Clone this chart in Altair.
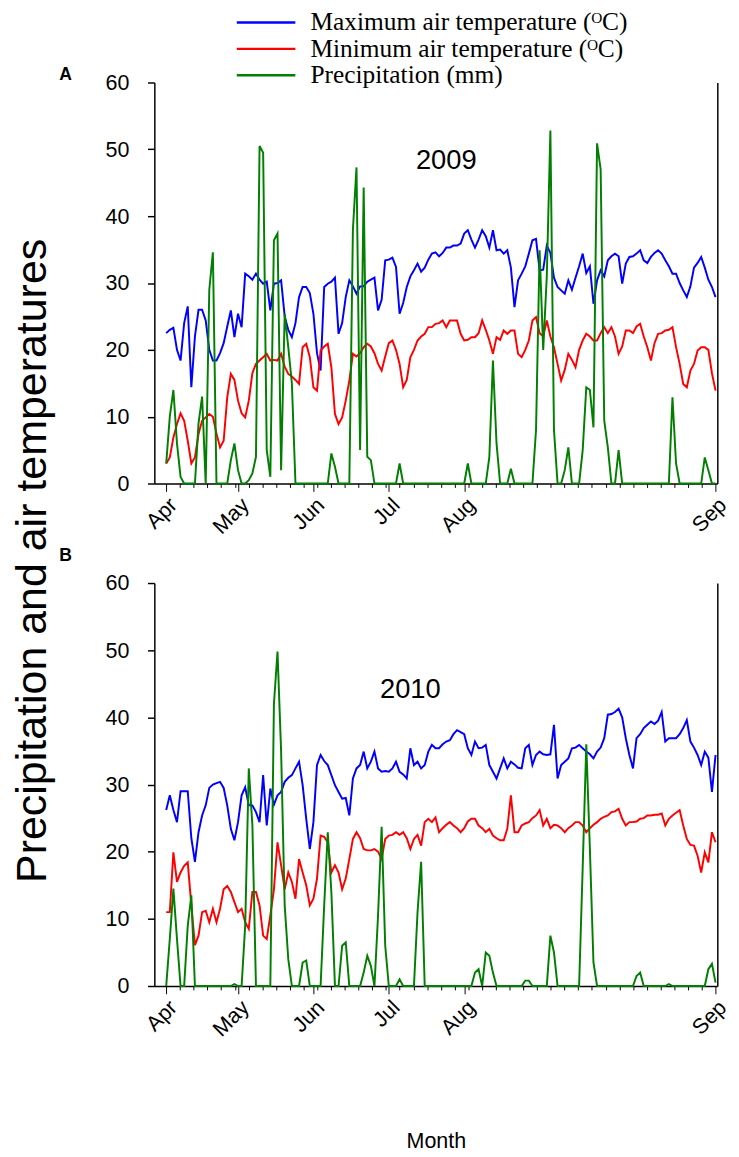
import altair as alt
import pandas as pd

# ---------------- data (daily values) ----------------
days = list(range(154))

max_2009 = [22.5, 23, 23.3, 20, 18.4, 24, 26.5, 14.4, 22, 26,
            26, 24.4, 20, 18.4, 18.4, 19.5, 21, 23.5, 25.9, 21.9,
            25.4, 23.4, 31.4, 31, 30.5, 31.4, 30.5, 29.9, 30.2, 25.9,
            29.9, 30, 30.4, 25, 23, 21.9, 24, 27.9, 29.4, 29.4,
            28.5, 25.4, 19.5, 16.9, 29.4, 29.9, 30.2, 30.8, 22.4, 24,
            27.9, 30.4, 29.5, 28.4, 29.5, 29.5, 30.2, 30.5, 30.8, 25.9,
            27.5, 33.4, 33.5, 33.8, 32.4, 25.4, 27, 29.4, 31, 31.9,
            32.9, 31.7, 32.3, 33.5, 34.4, 34.6, 34, 34.5, 35.3, 35.3,
            35.6, 35.6, 35.9, 37.4, 37.9, 36.5, 35.3, 36.5, 37.9, 37,
            35.3, 37.9, 34.9, 35, 34.4, 34.9, 32.3, 26.4, 30.4, 31.4,
            32.5, 34.4, 36.4, 36.6, 31.9, 32, 35.6, 34.5, 30.8, 29.4,
            28.9, 28.4, 30.4, 29, 30.8, 32.5, 34.4, 31.5, 32.5, 26.9,
            30.4, 31.9, 31, 33.4, 34, 34.4, 34, 29.9, 32.9, 33.9,
            34, 34.4, 34.9, 33.4, 33, 33.9, 34.5, 34.9, 34.4, 33.4,
            32.5, 31.4, 31.4, 30, 28.9, 27.9, 29.5, 32.3, 33, 33.9,
            32.3, 30.5, 29.4, 27.9]

min_2009 = [3, 3.9, 6.9, 8.9, 10.5, 9.4, 6.4, 3.0, 3.9, 7.4,
            9.4, 9.9, 10.4, 10, 7.5, 5.4, 6.4, 12.9, 16.4, 15.5,
            12.4, 10.5, 9.9, 12.4, 16.5, 17.9, 18.4, 18.9, 19.4, 18.4,
            18.5, 18.4, 19.4, 17.5, 16.4, 16, 15.5, 14.9, 20.4, 20.9,
            18.9, 14.4, 13.9, 19.9, 20.5, 20.9, 17.4, 10.4, 8.9, 9.9,
            12.4, 15.4, 19.4, 19, 19.5, 20.4, 20.9, 20.5, 19.5, 17.9,
            16.9, 19, 21, 21.4, 20, 17.9, 14.4, 15.5, 18.9, 20,
            21.4, 22, 22.4, 23.4, 23.4, 23.9, 24, 24.4, 23.4, 24.4,
            24.4, 24.4, 22.4, 21.4, 21.5, 21.9, 21.9, 22.5, 24.4, 23,
            21.4, 19.4, 21.9, 21.5, 22.9, 22.4, 22.9, 22.9, 19.4, 18.9,
            20, 21.4, 24.4, 24.9, 22.5, 22, 24.4, 22, 20.4, 17.9,
            15.4, 17, 19.4, 18.5, 17.4, 20, 21.4, 22.4, 22, 21.4,
            21.4, 22.5, 23.4, 22.5, 23.4, 22, 19.4, 20.5, 22.9, 22.9,
            22.5, 23.5, 23.9, 22, 20.4, 18.4, 21, 22.4, 22.5, 22.9,
            23, 23.4, 20.4, 17.9, 14.9, 14.4, 16.9, 17.9, 19.9, 20.4,
            20.4, 20, 16.5, 13.9]

prcp_2009 = [3, 10, 14, 6, 1, 0, 0, 0, 0, 9,
             13, 0, 29, 34.6, 0, 0, 0, 0, 3.5, 6,
             2, 0, 0, 0.5, 1.5, 4, 50.5, 49.5, 5, 1,
             36.4, 37.4, 2, 25.4, 20.4, 15, 0, 0, 0, 0,
             0, 0, 0, 0, 0, 0, 4.5, 2.5, 0, 0,
             0, 0, 38, 47.3, 5, 44.3, 4, 3.5, 0, 0,
             0, 0, 0, 0, 0, 3, 0, 0, 0, 0,
             0, 0, 0, 0, 0, 0, 0, 0, 0, 0,
             0, 0, 0, 0, 3, 0, 0, 0, 0, 0,
             4, 18.4, 6, 0, 0, 0, 2.2, 0, 0, 0,
             0, 0, 0, 8, 34.9, 20, 31, 52.8, 8, 0,
             0, 2, 5.4, 0, 0, 0, 5, 14.4, 14, 8.4,
             50.9, 47, 9.4, 5.4, 0, 0, 5, 0, 0, 0,
             0, 0, 0, 0, 0, 0, 0, 0, 0, 0,
             0, 12.9, 3, 0, 0, 0, 0, 0, 0, 0,
             3.9, 2, 0, 0]

max_2010 = [26.2, 28.4, 26.2, 24.4, 29, 29, 29, 22, 18.5, 22.9,
            25.4, 26.9, 29.5, 30, 30.2, 30.4, 29.5, 26.9, 23.4, 21.7,
            24.4, 28.4, 29.6, 26.9, 26.9, 25.9, 24.4, 31.4, 23.9, 29.4,
            27, 28.4, 28.9, 30.4, 31, 31.4, 32.4, 33.4, 29.9, 24.9,
            20.4, 24.4, 32.9, 34.4, 33.5, 32.9, 31.4, 29.9, 28.9, 27.9,
            28, 25.4, 30.9, 32.4, 32.9, 34.9, 32.4, 33.4, 34.9, 32.4,
            31.9, 32, 31.9, 32.4, 33.4, 31.9, 31.5, 30.9, 35.4, 32.9,
            33.4, 32.4, 32.9, 34.9, 35.9, 35.4, 35.4, 36, 36.4, 36.6,
            37.5, 38.1, 37.8, 37.5, 35.4, 34.4, 36.4, 35.4, 35.5, 35.9,
            32.9, 31.9, 30.9, 32.4, 33.9, 32.4, 33.4, 33, 32.5, 32.4,
            35.4, 35.9, 32.9, 34.4, 34.9, 34.5, 34.4, 34.5, 38.9, 30.9,
            32.9, 33.4, 33.9, 35.4, 35.5, 35.9, 35.4, 34.9, 34.5, 33.9,
            34.9, 35.5, 36.9, 40.4, 40.5, 40.8, 41.3, 40, 36.9, 34.4,
            32.4, 36.9, 37.5, 38.4, 38.9, 39.4, 39, 39.5, 40.8, 36.4,
            36.9, 36.9, 36.9, 37.5, 38.4, 39.6, 36.4, 35.5, 34.4, 32.9,
            34.9, 34, 28.9, 34.4]

min_2010 = [11, 11, 19.9, 15.5, 16.9, 17.9, 18.4, 12, 6.1, 7.5,
            11, 11.2, 9.5, 11.5, 9.5, 11.5, 14.4, 14.9, 14, 12.5,
            11, 11.5, 9.5, 8.5, 14, 14, 12, 7.5, 7, 10.5,
            14.4, 21.4, 18, 14.4, 16.9, 15.5, 13, 18.9, 16.9, 15,
            12, 13, 16, 22.4, 22.2, 21.4, 16.9, 18, 16.9, 14.4,
            16, 18.9, 21.9, 22.9, 22, 20.4, 20.2, 20.2, 20.4, 20,
            18.9, 21.9, 22.4, 22.5, 22.9, 22.5, 22.9, 22, 20.4, 21.9,
            22.5, 20.9, 24.4, 24.9, 24.4, 25.1, 22.9, 23.5, 24, 24.4,
            23.9, 23.5, 22.9, 23.5, 24.5, 24.9, 24.9, 23.9, 23.5, 22.9,
            23.4, 22.4, 22, 21.7, 21.7, 23.4, 28.4, 22.9, 22.9, 23.9,
            24.2, 24.4, 25, 25.4, 26.2, 23.9, 24.9, 23.5, 24, 23.9,
            23.5, 22.9, 23.5, 23.9, 24.4, 24.4, 23.9, 22.9, 23.5, 24,
            24.4, 24.9, 25.2, 25.4, 25.9, 26, 26.4, 24.9, 23.9, 24.4,
            24.4, 24.5, 24.9, 25, 25.4, 25.4, 25.5, 25.5, 25.7, 23.9,
            24.9, 25.4, 25.8, 26.2, 23.9, 21.9, 21, 20.9, 19.4, 16.9,
            19.9, 18.4, 22.9, 21.4]

prcp_2010 = [0, 7, 14.5, 7, 0, 0, 9, 13.5, 0, 0,
             0, 0, 0, 0, 0, 0, 0, 0, 0, 0.3,
             0, 0, 9, 32.4, 24, 0, 0, 0, 0, 0,
             42, 49.8, 35, 12, 4, 0, 0, 0, 3.5, 3.8,
             0, 0, 0, 0, 12, 22.9, 14, 0, 0, 6,
             6.5, 0, 0, 0, 0, 2, 4.5, 3, 0, 10.5,
             23.7, 6, 0, 0, 0, 1, 0, 0, 0, 0,
             11, 18.5, 0, 0, 0, 0, 0, 0, 0, 0,
             0, 0, 0, 0, 0, 0, 2, 2.5, 0, 5,
             4.5, 2, 0, 0, 0, 0, 0, 0, 0, 0,
             0.8, 0.8, 0, 0, 0, 0, 0, 7.5, 5, 0,
             0, 0, 0, 0, 0, 0, 17.7, 36, 20.4, 3.5,
             0, 0, 0, 0, 0, 0, 0, 0, 0, 0,
             0, 1.5, 2, 0, 0, 0, 0, 0, 0, 0,
             0.3, 0, 0, 0, 0, 0, 0, 0, 0, 0,
             0, 2.5, 3.3, 0.5]

SERIES = ["Maximum air temperature (\u1d3cC)",
          "Minimum air temperature (\u1d3cC)",
          "Precipitation (mm)"]
COLORS = ["#0000ff", "#ff0000", "#007f00"]

# month labels as placed on the original axis
label_days = [0, 20, 41, 62, 83, 153]
month_names = ["Apr", "May", "Jun", "Jul", "Aug", "Sep"]
y_ticks = [0, 10, 20, 30, 40, 50, 60]

year_labels = ["2009", "2010"]
year_label_day = [78, 68]
year_label_value = [48.3, 44.0]
panel_letters = ["A", "B"]
letter_offset_y = [-8, -28]
panel_heights = [411, 413]

# ---------------- axis helpers ----------------
minor_ticks = [round(k * 153 / 40, 3) for k in range(41)]
x_ticks = sorted(set(minor_ticks) | set(label_days))

label_expr = " : ".join(f"datum.value == {d} ? '{m}'" for d, m in zip(label_days, month_names)) + " : ''"
major_test = "indexof([" + ",".join(str(d) for d in label_days) + "], datum.value) >= 0"

FONT = "Liberation Sans"


def make_panel(i, tmax, tmin, prcp, with_legend, x_title):
    n = len(days)
    temp_df = pd.DataFrame({
        "day": days + days,
        "value": tmax + tmin,
        "series": [SERIES[0]] * n + [SERIES[1]] * n,
    })
    rain_df = pd.DataFrame({"day": days, "value": prcp, "series": [SERIES[2]] * n})
    note_df = pd.DataFrame({"day": [year_label_day[i]], "value": [year_label_value[i]],
                            "label": [year_labels[i]]})
    letter_df = pd.DataFrame({"label": [panel_letters[i]]})

    xscale = alt.Scale(domain=[-3.3, 153.5], nice=False, zero=False)
    yscale = alt.Scale(domain=[0, 60], nice=False)

    xaxis_kw = dict(values=x_ticks, labelExpr=label_expr, labelAngle=-45,
                    labelFontSize=22, labelFont=FONT, labelColor="black",
                    labelOverlap=False, labelPadding=3,
                    tickSize={"condition": {"test": major_test, "value": 8}, "value": 4},
                    tickColor="black", domainColor="black", domainWidth=1.5,
                    grid=False)
    if x_title:
        xaxis_kw.update(title=x_title, titleFont=FONT, titleFontSize=22,
                        titleFontWeight="normal", titleColor="black", titlePadding=93)
    else:
        xaxis_kw.update(title=None)
    X = alt.X("day:Q", scale=xscale, axis=alt.Axis(**xaxis_kw))

    y_left = alt.Y("value:Q", scale=yscale,
                   axis=alt.Axis(values=y_ticks, tickSize=7, labelPadding=19,
                                 labelFontSize=22, labelFont=FONT, labelColor="black",
                                 domainColor="black", domainWidth=1.5, tickColor="black",
                                 tickWidth=1.5, grid=False, title=None))
    y_none = alt.Y("value:Q", scale=yscale, axis=None)
    y_right = alt.Y("value:Q", scale=yscale,
                    axis=alt.Axis(orient="right", labels=False, ticks=False, grid=False,
                                  title=None, domainColor="black", domainWidth=1.5))

    if with_legend:
        legend = alt.Legend(orient="none", legendX=83, legendY=-74.75, title=None,
                            direction="vertical", symbolType="stroke", symbolSize=3600,
                            symbolStrokeWidth=2.5, labelFont="Liberation Serif",
                            labelFontSize=26, labelColor="black", labelOffset=14,
                            clipHeight=26.5, rowPadding=0, padding=0, labelLimit=0)
    else:
        legend = None
    color = alt.Color("series:N", scale=alt.Scale(domain=SERIES, range=COLORS),
                      sort=SERIES, legend=legend)

    temp = alt.Chart(temp_df).mark_line(strokeWidth=2).encode(x=X, y=y_left, color=color)
    rain = alt.Chart(rain_df).mark_line(strokeWidth=2).encode(x=X, y=y_none, color=color)
    note = alt.Chart(note_df).mark_text(fontSize=28, font=FONT, color="black").encode(
        x=X, y=y_right, text="label:N")
    letter = alt.Chart(letter_df).mark_text(fontSize=18, font=FONT, fontWeight="bold",
                                            color="black").encode(
        x=alt.value(-91), y=alt.value(letter_offset_y[i]), text="label:N")

    return alt.layer(temp, rain, note, letter).resolve_axis(y="independent").properties(
        width=577, height=panel_heights[i])


panel_a = make_panel(0, max_2009, min_2009, prcp_2009, True, None)
panel_b = make_panel(1, max_2010, min_2010, prcp_2010, False, "Month")

chart = alt.vconcat(panel_a, panel_b, spacing=9).resolve_scale(color="independent").properties(
    padding={"top": -13, "bottom": -4, "left": 3, "right": 0},
    title=alt.TitleParams("Precipitation and air temperatures", orient="left", anchor="middle",
                          fontSize=44, font=FONT, fontWeight="normal", color="black",
                          offset=5, dx=20),
).configure_view(stroke=None)

chart.save("out.html", embed_options={"renderer": "svg", "actions": False})
